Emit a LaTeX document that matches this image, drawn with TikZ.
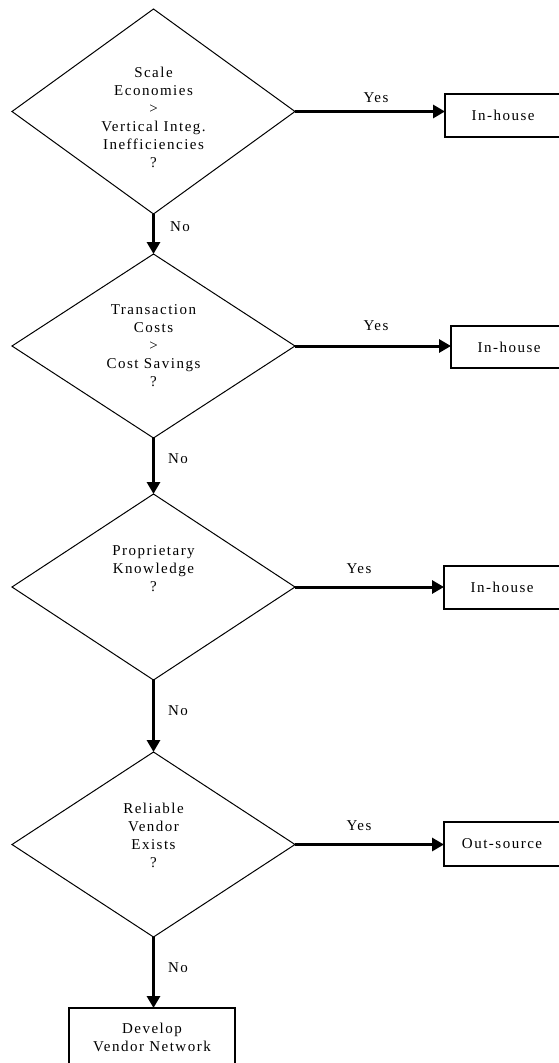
\documentclass[tikz,border=0pt]{standalone}
\usepackage{fontspec}
\setmainfont{Liberation Serif}[LetterSpace=10]
\usetikzlibrary{shapes.geometric,arrows.meta}
\tikzset{
  dia/.style={draw, shape=diamond, line width=1pt, inner sep=0pt, outer sep=0pt},
  txt/.style={align=center, font=\fontsize{15}{18}\selectfont, inner sep=0pt},
  lbl/.style={font=\fontsize{15}{18}\selectfont, inner sep=0pt},
  box/.style={draw, rectangle, line width=1.3pt, inner sep=0pt, outer sep=0pt, align=center, font=\fontsize{15}{18}\selectfont},
  flow/.style={line width=3pt, -{Triangle[length=12pt,width=13pt]}}
}
\begin{document}
\begin{tikzpicture}[x=1pt,y=-1pt]
\clip (0,0) rectangle (559,1063);
\fill[white] (0,0) rectangle (559,1063);
% diamonds
\node[dia, minimum width=283pt, minimum height=205pt] (d1) at (153.5,111.5) {};
\node[dia, minimum width=283pt, minimum height=184pt] (d2) at (153.5,346) {};
\node[dia, minimum width=283pt, minimum height=186pt] (d3) at (153.5,587) {};
\node[dia, minimum width=283pt, minimum height=185pt] (d4) at (153.5,844.5) {};
% diamond texts
\node[txt] (t1) at (153.5,117) {Scale\\Economies\\>\\Vertical Integ.\\Inefficiencies\\?};
\node[txt] (t2) at (153.5,346) {Transaction\\Costs\\>\\Cost Savings\\?};
\node[txt] (t3) at (153.5,569) {Proprietary\\Knowledge\\?};
\node[txt] (t4) at (153.5,835.5) {Reliable\\Vendor\\Exists\\?};
% boxes
\node[box, minimum width=116pt, minimum height=43pt] (b1) at (503,115.5) {In-house};
\node[box, minimum width=116pt, minimum height=42pt] (b2) at (509,347) {In-house};
\node[box, minimum width=116pt, minimum height=43pt] (b3) at (502,587.5) {In-house};
\node[box, minimum width=116pt, minimum height=44pt] (b4) at (502,844) {Out-source};
\node[box, minimum width=166pt, minimum height=58pt] (b5) at (152,1037) {Develop\\Vendor Network};
% arrows
\draw[flow] (d1.south) -- (d2.north);
\draw[flow] (d2.south) -- (d3.north);
\draw[flow] (d3.south) -- (d4.north);
\draw[flow] (d4.south) -- (d4.south |- b5.north);
\draw[flow] (d1.east) -- (d1.east -| b1.west);
\draw[flow] (d2.east) -- (d2.east -| b2.west);
\draw[flow] (d3.east) -- (d3.east -| b3.west);
\draw[flow] (d4.east) -- (d4.east -| b4.west);
% labels
\node[lbl] (n1) at (180,227) {No};
\node[lbl] (n2) at (178,459) {No};
\node[lbl] (n3) at (178,711) {No};
\node[lbl] (n4) at (178,968) {No};
\node[lbl] (y1) at (376,98) {Yes};
\node[lbl] (y2) at (376,326) {Yes};
\node[lbl] (y3) at (359,569) {Yes};
\node[lbl] (y4) at (359,826) {Yes};
\end{tikzpicture}
\end{document}
